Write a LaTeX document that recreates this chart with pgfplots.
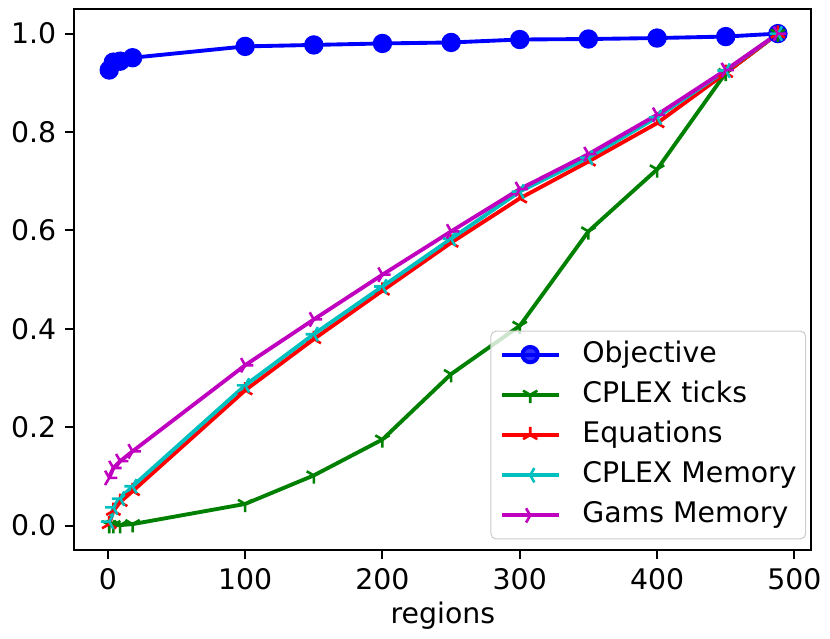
\documentclass[border=0pt]{standalone}
\usepackage{fontspec}
\setmainfont{DejaVu Sans}
\usepackage{pgfplots}
\pgfplotsset{compat=1.18}
\usetikzlibrary{plotmarks}
\definecolor{mb}{rgb}{0,0,1}
\definecolor{mg}{rgb}{0,0.5,0}
\definecolor{mr}{rgb}{1,0,0}
\definecolor{mc}{rgb}{0,0.75,0.75}
\definecolor{mm}{rgb}{0.75,0,0.75}
\definecolor{legedge}{gray}{0.8}
\pgfplotstableread{
x    obj    ticks  eqs    cmem   gmem
1    0.926  0.001  0.003  0.008  0.097
4    0.942  0.001  0.030  0.037  0.117
9    0.944  0.001  0.048  0.055  0.131
18   0.951  0.003  0.070  0.080  0.151
100  0.974  0.044  0.275  0.285  0.326
150  0.977  0.102  0.379  0.389  0.419
200  0.980  0.175  0.4775 0.486  0.510
250  0.982  0.308  0.575  0.583  0.598
300  0.988  0.406  0.665  0.679  0.684
350  0.989  0.598  0.740  0.748  0.755
400  0.991  0.724  0.818  0.830  0.835
450  0.994  0.920  0.920  0.925  0.926
488  1.000  1.000  1.000  1.000  1.000
}\datatable
\begin{document}
\begin{tikzpicture}
\begin{axis}[
  scale only axis,
  width=286pt, height=210pt,
  xmin=-24.4, xmax=512.4,
  ymin=-0.05, ymax=1.05,
  xtick={0,100,200,300,400,500},
  ytick={0,0.2,0.4,0.6,0.8,1.0},
  yticklabel style={/pgf/number format/.cd, fixed, fixed zerofill, precision=1},
  /pgf/number format/assume math mode=true,
  tick label style={font=\fontsize{11}{13}\selectfont, black},
  label style={font=\fontsize{11}{13}\selectfont},
  xlabel={regions},
  xlabel style={yshift=2pt},
  tick pos=left,
  tick align=outside,
  major tick length=3.5pt,
  every tick/.style={black, line width=0.8pt},
  axis line style={black, line width=0.8pt},
  legend style={at={(1,0)}, anchor=south east, xshift=-2pt, yshift=4.2pt,
    draw=legedge, rounded corners=2pt, fill=white, fill opacity=0.8, text opacity=1,
    draw opacity=1, inner sep=3.5pt, row sep=4.4pt,
    font=\fontsize{11}{13}\selectfont,
    nodes={inner sep=0pt, text height=8.5pt, text depth=2.7pt},
    column sep=8.5pt},
  legend cell align=left,
  legend image code/.code={
    \draw[mark repeat=2,mark phase=2] plot coordinates {(0pt,0pt)(11pt,0pt)(22pt,0pt)};
  },
]
\addplot[mb, line width=1.5pt, mark=*, mark size=3pt, mark options={solid, fill=mb, draw=mb}] table[x=x, y=obj] {\datatable};
\addlegendentry{Objective}
\addplot[mg, line width=1.5pt, mark=Mercedes star flipped, mark size=3.2pt, mark options={solid, line width=1pt}] table[x=x, y=ticks] {\datatable};
\addlegendentry{CPLEX ticks}
\addplot[mr, line width=1.5pt, mark=Mercedes star, mark size=3.2pt, mark options={solid, line width=1pt}] table[x=x, y=eqs] {\datatable};
\addlegendentry{Equations}
\addplot[mc, line width=1.5pt, mark=Mercedes star, mark size=3.2pt, mark options={solid, line width=1pt, rotate=90}] table[x=x, y=cmem] {\datatable};
\addlegendentry{CPLEX Memory}
\addplot[mm, line width=1.5pt, mark=Mercedes star, mark size=3.2pt, mark options={solid, line width=1pt, rotate=-90}] table[x=x, y=gmem] {\datatable};
\addlegendentry{Gams Memory}
\end{axis}
\path[use as bounding box] ([xshift=-28.85pt, yshift=-29.6pt]current axis.south west) rectangle ([xshift=4.6pt, yshift=3.5pt]current axis.north east);
\end{tikzpicture}
\end{document}
